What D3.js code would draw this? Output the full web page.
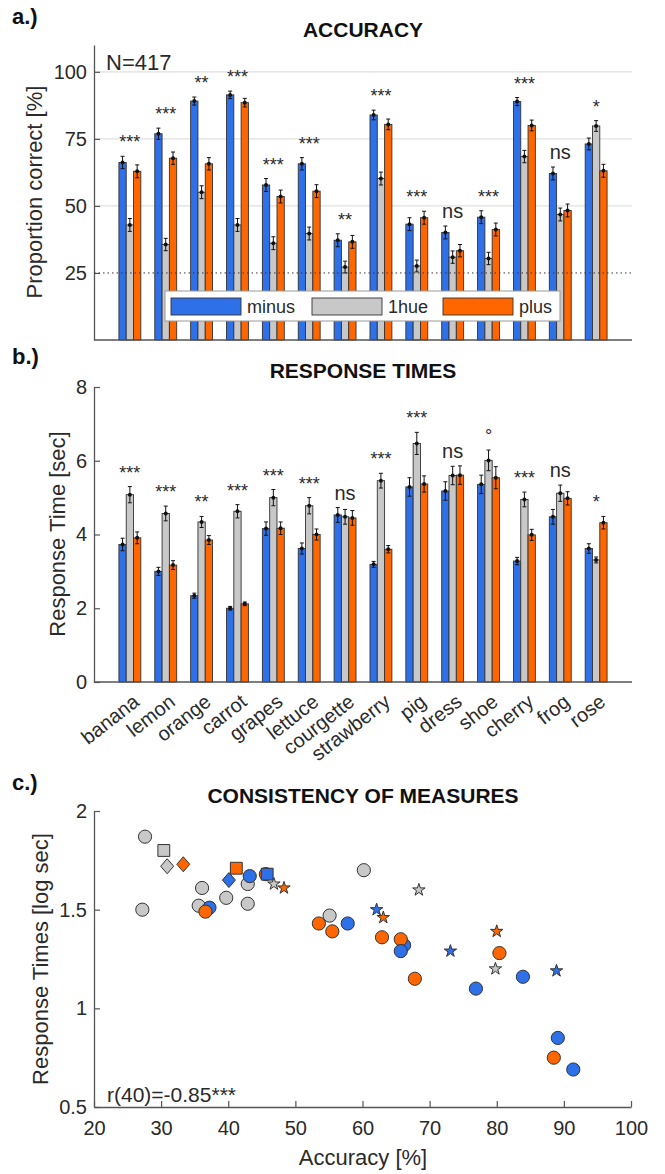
<!DOCTYPE html>
<html>
<head>
<meta charset="utf-8">
<script src="https://cdn.jsdelivr.net/npm/d3@7"></script>
<style>
  body { margin: 0; background: #fff; }
  svg { display: block; font-family: 'Liberation Sans', Arial, sans-serif; }
</style>
</head>
<body>
<div id="chart"></div>
<script>
// categories and conditions
var categories = ['banana', 'lemon', 'orange', 'carrot', 'grapes', 'lettuce', 'courgette',
  'strawberry', 'pig', 'dress', 'shoe', 'cherry', 'frog', 'rose'];
var conditions = ['minus', '1hue', 'plus'];

// accuracy [%]
var accMinus = [66.2, 76.9, 89.1, 91.4, 57.8, 65.7, 37.2, 83.9, 43.2, 40.1, 45.8, 88.9, 62.1, 73.1];
var acc1hue  = [42.9, 35.6, 55.1, 42.9, 36.1, 39.7, 27.2, 60.2, 27.6, 30.9, 30.4, 68.4, 46.8, 79.8];
var accPlus  = [62.9, 67.8, 65.7, 88.5, 53.5, 55.5, 36.6, 80.4, 45.6, 33.3, 41.2, 80.0, 48.3, 63.1];
var accErrMinus = [2.3, 2.1, 1.5, 1.4, 2.4, 2.3, 2.4, 1.8, 2.4, 2.4, 2.4, 1.5, 2.4, 2.2];
var accErr1hue  = [2.4, 2.3, 2.4, 2.4, 2.4, 2.4, 2.2, 2.4, 2.2, 2.3, 2.3, 2.3, 2.4, 2.0];
var accErrPlus  = [2.4, 2.3, 2.3, 1.6, 2.4, 2.4, 2.4, 2.0, 2.4, 2.3, 2.4, 2.0, 2.4, 2.4];
var sigAcc = ['***', '***', '**', '***', '***', '***', '**', '***', '***', 'ns', '***', '***', 'ns', '*'];

// response times [sec]
var rtMinus = [3.73, 3.00, 2.34, 2.00, 4.16, 3.62, 4.53, 3.19, 5.29, 5.18, 5.36, 3.28, 4.48, 3.62];
var rt1hue  = [5.08, 4.57, 4.34, 4.63, 5.00, 4.78, 4.48, 5.46, 6.47, 5.60, 6.01, 4.95, 5.12, 3.31];
var rtPlus  = [3.91, 3.17, 3.85, 2.12, 4.17, 4.00, 4.45, 3.60, 5.37, 5.61, 5.54, 3.99, 4.98, 4.32];
var rtErrMinus = [0.17, 0.11, 0.07, 0.05, 0.18, 0.15, 0.20, 0.08, 0.25, 0.25, 0.25, 0.10, 0.20, 0.13];
var rtErr1hue  = [0.22, 0.20, 0.15, 0.18, 0.22, 0.22, 0.20, 0.20, 0.30, 0.25, 0.28, 0.20, 0.22, 0.08];
var rtErrPlus  = [0.16, 0.12, 0.12, 0.05, 0.17, 0.15, 0.20, 0.10, 0.22, 0.25, 0.30, 0.15, 0.18, 0.17];
var sigRt = ['***', '***', '**', '***', '***', '***', 'ns', '***', '***', 'ns', '\u00b0', '***', 'ns', '*'];

// consistency scatter: log response times [log sec]
var logRtMinus = [1.32, 1.10, 0.85, 0.69, 1.43, 1.29, 1.51, 1.16, 1.67, 1.65, 1.68, 1.19, 1.50, 1.29];
var logRt1hue  = [1.63, 1.52, 1.47, 1.53, 1.61, 1.56, 1.50, 1.70, 1.87, 1.72, 1.80, 1.60, 1.63, 1.20];
var logRtPlus  = [1.36, 1.15, 1.35, 0.75, 1.43, 1.39, 1.49, 1.28, 1.68, 1.73, 1.71, 1.39, 1.61, 1.46];
var markerType = ['circle', 'circle', 'circle', 'circle', 'circle', 'circle', 'circle',
  'circle', 'circle', 'diamond', 'square', 'star', 'star', 'star'];

var accTicks = [25, 50, 75, 100];
var rtTicks = [0, 2, 4, 6, 8];
var scX = [20, 30, 40, 50, 60, 70, 80, 90, 100];
var scY = [0.5, 1, 1.5, 2];

(function () {
  var width = 665, height = 1174;
  var colors = ['#2e70e8', '#c8c8c8', '#ff6600'];
  var axisColor = '#555';
  var textColor = '#2a2a2a';
  var left = 94, right = 632;

  var svg = d3.select('#chart').append('svg')
    .attr('width', width)
    .attr('height', height)
    .attr('viewBox', [0, 0, width, height]);

  svg.append('rect').attr('width', width).attr('height', height).attr('fill', '#fff');

  var x = d3.scaleLinear().domain([0, categories.length + 1]).range([left, right]);
  var barW = 7.3;

  function styleAxis(g) {
    g.select('.domain').attr('stroke', axisColor).attr('stroke-width', 1.3);
    g.selectAll('.tick line').attr('stroke', axisColor).attr('stroke-width', 1.2);
    g.selectAll('.tick text').attr('fill', textColor).attr('font-size', 20)
      .attr('font-family', 'Liberation Sans, Arial, sans-serif');
  }

  function label(txt, tx, ty, opts) {
    opts = opts || {};
    return svg.append('text')
      .attr('x', tx).attr('y', ty)
      .attr('text-anchor', opts.anchor || 'middle')
      .attr('font-size', opts.size || 22)
      .attr('font-weight', opts.bold ? 'bold' : 'normal')
      .attr('fill', opts.color || textColor)
      .text(txt);
  }

  function barPanel(vals, errs, sig, y, opts) {
    var g = svg.append('g');

    // bars
    categories.forEach(function (c, i) {
      var cx = x(i + 1);
      vals.forEach(function (series, j) {
        g.append('rect')
          .attr('x', cx + (j - 1.5) * barW)
          .attr('y', y(series[i]))
          .attr('width', barW)
          .attr('height', y(0) - y(series[i]))
          .attr('fill', colors[j])
          .attr('stroke', '#333')
          .attr('stroke-width', 0.9);
      });
    });

    // error bars
    categories.forEach(function (c, i) {
      var cx = x(i + 1);
      vals.forEach(function (series, j) {
        var bx = cx + (j - 1) * barW;
        var v = series[i], e = errs[j][i];
        g.append('line').attr('x1', bx).attr('x2', bx)
          .attr('y1', y(v - e)).attr('y2', y(v + e))
          .attr('stroke', '#111').attr('stroke-width', 1);
        [v - e, v + e].forEach(function (w) {
          g.append('line').attr('x1', bx - 2).attr('x2', bx + 2)
            .attr('y1', y(w)).attr('y2', y(w))
            .attr('stroke', '#111').attr('stroke-width', 1);
        });
        g.append('circle').attr('cx', bx).attr('cy', y(v)).attr('r', 2)
          .attr('fill', '#111');
      });
    });

    // significance
    categories.forEach(function (c, i) {
      var top = d3.max(vals, function (series, j) { return series[i] + errs[j][i]; });
      g.append('text')
        .attr('x', x(i + 1))
        .attr('y', y(top) - 8)
        .attr('text-anchor', 'middle')
        .attr('font-size', sig[i] === 'ns' ? 20 : 18)
        .attr('fill', textColor)
        .text(sig[i]);
    });

    // axes
    g.append('line').attr('x1', left).attr('x2', right)
      .attr('y1', y(0)).attr('y2', y(0))
      .attr('stroke', axisColor).attr('stroke-width', 1.3);
    var ax = g.append('g').attr('transform', 'translate(' + left + ',0)')
      .call(d3.axisLeft(y).tickValues(opts.ticks).tickSize(-6).tickSizeOuter(0).tickPadding(7));
    styleAxis(ax);
    return g;
  }

  // ---- a.) accuracy
  var yA = d3.scaleLinear().domain([0, 110]).range([340, 45]);

  // grid lines
  [50, 75, 100].forEach(function (t) {
    svg.append('line').attr('x1', left).attr('x2', right)
      .attr('y1', yA(t)).attr('y2', yA(t))
      .attr('stroke', '#e0e0e0').attr('stroke-width', 1.3);
  });

  barPanel([accMinus, acc1hue, accPlus], [accErrMinus, accErr1hue, accErrPlus], sigAcc, yA,
    { ticks: accTicks });

  // chance level
  svg.append('line').attr('x1', left).attr('x2', right)
    .attr('y1', yA(25)).attr('y2', yA(25))
    .attr('stroke', '#333').attr('stroke-width', 1)
    .attr('stroke-dasharray', '1.5,3');

  label('a.)', 12, 24, { anchor: 'start', bold: true, size: 22, color: '#111' });
  label('ACCURACY', (left + right) / 2, 37, { bold: true, size: 21, color: '#111' });
  label('N=417', 106, 70, { anchor: 'start', size: 22 });
  svg.append('text')
    .attr('transform', 'translate(42,192) rotate(-90)')
    .attr('text-anchor', 'middle').attr('font-size', 22).attr('fill', textColor)
    .text('Proportion correct [%]');

  // legend
  var lg = svg.append('g');
  lg.append('rect').attr('x', 165).attr('y', 291).attr('width', 395).attr('height', 30)
    .attr('fill', '#fff').attr('stroke', '#999').attr('stroke-width', 1);
  var legX = [171, 312, 443];
  conditions.forEach(function (c, j) {
    lg.append('rect').attr('x', legX[j]).attr('y', 298).attr('width', 70).attr('height', 17)
      .attr('fill', colors[j]).attr('stroke', '#333').attr('stroke-width', 0.9);
    lg.append('text').attr('x', legX[j] + 76).attr('y', 313)
      .attr('font-size', 18).attr('fill', textColor).text(c);
  });

  // ---- b.) response times
  var yB = d3.scaleLinear().domain([0, 8]).range([682, 387]);
  barPanel([rtMinus, rt1hue, rtPlus], [rtErrMinus, rtErr1hue, rtErrPlus], sigRt, yB,
    { ticks: rtTicks });

  categories.forEach(function (c, i) {
    svg.append('text')
      .attr('transform', 'translate(' + (x(i + 1) + 2) + ',693) rotate(-38)')
      .attr('text-anchor', 'end')
      .attr('dy', '0.71em')
      .attr('font-size', 20)
      .attr('fill', textColor)
      .text(c);
  });

  label('b.)', 12, 364, { anchor: 'start', bold: true, size: 22, color: '#111' });
  label('RESPONSE TIMES', (left + right) / 2, 378, { bold: true, size: 21, color: '#111' });
  svg.append('text')
    .attr('transform', 'translate(65,534) rotate(-90)')
    .attr('text-anchor', 'middle').attr('font-size', 22).attr('fill', textColor)
    .text('Response Time [sec]');

  // ---- c.) consistency scatter
  var xC = d3.scaleLinear().domain([20, 100]).range([left, right - 1]);
  var yC = d3.scaleLinear().domain([0.5, 2]).range([1107, 811]);

  var axB = svg.append('g').attr('transform', 'translate(0,1107)')
    .call(d3.axisBottom(xC).tickValues(scX).tickSize(-6).tickSizeOuter(0).tickPadding(14)
      .tickFormat(function (d) { return String(d); }));
  styleAxis(axB);
  var axL = svg.append('g').attr('transform', 'translate(' + left + ',0)')
    .call(d3.axisLeft(yC).tickValues(scY).tickSize(-6).tickSizeOuter(0).tickPadding(7)
      .tickFormat(function (d) { return String(d); }));
  styleAxis(axL);

  var starPath = d3.symbol().type(d3.symbolStar).size(48)();
  var squarePath = d3.symbol().type(d3.symbolSquare).size(140)();
  var diamondPath = 'M0,-7.5L6.5,0L0,7.5L-6.5,0Z';

  var scatterY = [logRtMinus, logRt1hue, logRtPlus];
  var scatterX = [accMinus, acc1hue, accPlus];
  var pts = svg.append('g');
  categories.forEach(function (c, i) {
    scatterY.forEach(function (series, j) {
      var px = xC(scatterX[j][i]), py = yC(series[i]);
      var t = markerType[i];
      var m;
      if (t === 'circle') {
        m = pts.append('circle').attr('cx', px).attr('cy', py).attr('r', 6.6);
      } else {
        m = pts.append('path')
          .attr('d', t === 'star' ? starPath : (t === 'square' ? squarePath : diamondPath))
          .attr('transform', 'translate(' + px + ',' + py + ')');
      }
      m.attr('fill', colors[j]).attr('stroke', '#333').attr('stroke-width', 1);
    });
  });

  label('c.)', 12, 790, { anchor: 'start', bold: true, size: 22, color: '#111' });
  label('CONSISTENCY OF MEASURES', (left + right) / 2, 803, { bold: true, size: 21, color: '#111' });
  label('r(40)=-0.85***', 107, 1102, { anchor: 'start', size: 21 });
  label('Accuracy [%]', (left + right) / 2, 1165, { size: 22 });
  svg.append('text')
    .attr('transform', 'translate(48,959) rotate(-90)')
    .attr('text-anchor', 'middle').attr('font-size', 22).attr('fill', textColor)
    .text('Response Times [log sec]');
})();
</script>
</body>
</html>
